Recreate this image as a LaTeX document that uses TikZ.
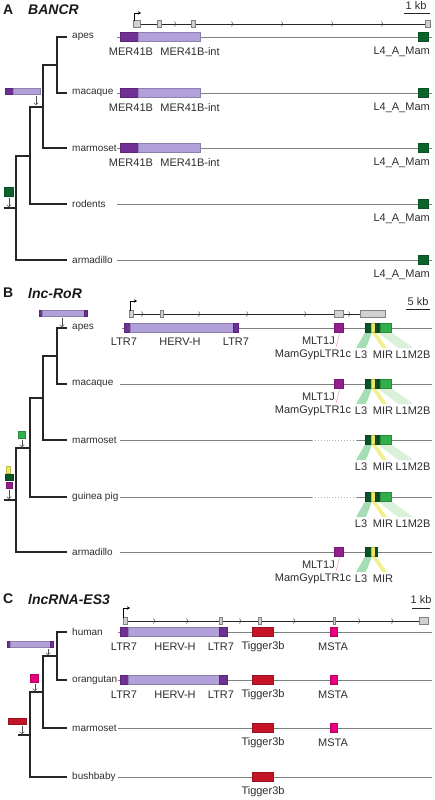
\documentclass[tikz,border=0pt]{standalone}
\usepackage{fontspec}
\setmainfont{Liberation Sans}
\usetikzlibrary{arrows.meta}
\definecolor{dpur}{RGB}{112,48,150}
\definecolor{lpur}{RGB}{178,160,218}
\definecolor{dgrn}{RGB}{12,100,45}
\definecolor{mag}{RGB}{150,30,140}
\definecolor{lthr}{RGB}{10,85,40}
\definecolor{miry}{RGB}{240,232,100}
\definecolor{lmg}{RGB}{50,175,75}
\definecolor{tig}{RGB}{195,20,40}
\definecolor{msta}{RGB}{230,0,125}
\definecolor{txt}{RGB}{45,45,45}
\definecolor{bandg}{RGB}{165,222,180}
\definecolor{bandy}{RGB}{242,240,140}
\definecolor{bandl}{RGB}{218,240,218}
\tikzset{
  ttl/.style={anchor=west, inner sep=0, font=\fontsize{14}{16}\selectfont\bfseries, text=black!90},
  sp/.style={anchor=west, inner sep=0, font=\fontsize{10}{12}\selectfont, text=txt},
  gl/.style={inner sep=0, font=\fontsize{11}{13}\selectfont, text=txt},
  tree/.style={line width=1.1pt, draw=black!85},
  sline/.style={line width=0.9pt, draw=black!50},
  tline/.style={line width=0.9pt, draw=black!85},
  ev/.style={-{Straight Barb[length=2pt,width=4.5pt]}, line width=0.5pt, draw=black!70},
  prom/.style={line width=0.9pt, draw=black, -{Stealth[length=3pt,width=3.5pt]}},
  sbar/.style={line width=1pt, draw=black!85}
}
\newcommand\gbox[4]{\filldraw[fill=#4, draw=#4!80!black, line width=0.3pt] ({#1},{#3-4.5}) rectangle ({#2},{#3+4.5});}
\newcommand\ebox[5]{\filldraw[fill=#5, draw=#5!80!black, line width=0.3pt] ({#1},{#3}) rectangle ({#2},{#4});}
\newcommand\exon[3]{\filldraw[fill=black!18, draw=black!50, line width=0.4pt] ({#1},{#3-3.5}) rectangle ({#2},{#3+3.5});}
\newcommand\chev[2]{\draw[line width=0.5pt, black!75] ({#1-1.5},{#2-2.5}) -- ({#1},{#2}) -- ({#1-1.5},{#2+2.5});}
% L3 / MIR / L1M2B block with bands
\newcommand\Lblock[1]{%
  \fill[bandg] (365,{#1+4.5}) -- (372,{#1+4.5}) -- (366,{#1+20}) -- (356,{#1+20}) -- cycle;
  \fill[bandy] (372,{#1+4.5}) -- (376,{#1+4.5}) -- (387,{#1+20}) -- (382,{#1+20}) -- cycle;
  \fill[bandl] (378,{#1+4.5}) -- (392,{#1+4.5}) -- (413,{#1+20}) -- (398,{#1+20}) -- cycle;
  \gbox{365}{371}{#1}{lthr}\gbox{371}{375}{#1}{miry}\gbox{375}{377}{#1}{lthr}
  \gbox{378}{380}{#1}{lthr}\gbox{380}{391}{#1}{lmg}}
\newcommand\Llabels[2]{%
  \node[gl] (#2L3) at (361,{#1+27}) {L3};
  \node[gl] (#2MIR) at (383,{#1+27}) {MIR};
  \node[gl] (#2L1) at (413,{#1+27}) {L1M2B};}
\newcommand\MLT[2]{%
  \gbox{334}{343}{#1}{mag}
  \draw[line width=0.5pt, draw={rgb,255:red,240;green,150;blue,200}] (340,{#1+4.5}) -- (336,{#1+19});
  \node[gl, anchor=east] (#2MLT) at (335,{#1+13}) {MLT1J};
  \node[gl] (#2Gyp) at (313,{#1+27}) {MamGypLTR1c};}
\begin{document}
\begin{tikzpicture}[x=1pt,y=-1pt]
\useasboundingbox (0,0) rectangle (435,800);

%================ Panel A =================
\node[ttl] (Alet) at (3,10) {A};
\node[ttl, font=\fontsize{14}{16}\selectfont\bfseries\itshape] (Aname) at (28,10) {BANCR};
\node[gl] (Ascale) at (416,6) {1 kb};
\coordinate (As1) at (404,14); \coordinate (As2) at (430,14);
\draw[sbar] (As1) -- (As2);
% transcript
\draw[tline] (136,24) -- (428,24);
\foreach \c in {176,233,283,333,383} {\chev{\c}{24}}
\exon{133}{140}{24}\exon{157}{161}{24}\exon{191}{195}{24}\exon{425}{430}{24}
\draw[prom] (134,21) -- (134,13) -- (141,13);
% tree
\node[sp] (Aapes) at (72,37) {apes};
\node[sp] (Amac) at (72,93) {macaque};
\node[sp] (Amar) at (72,148) {marmoset};
\node[sp] (Arod) at (72,204) {rodents};
\node[sp] (Aarm) at (72,260) {armadillo};
\coordinate (An1) at (57,65);
\coordinate (An2) at (43,107);
\coordinate (An3) at (30,156);
\coordinate (An4) at (16,208);
\coordinate (An0) at (4,208);
\draw[tree] (An1) |- ([xshift=-5pt]Aapes.west);
\draw[tree] (An1) |- ([xshift=-5pt]Amac.west);
\draw[tree] (An2) |- (An1);
\draw[tree] (An2) |- ([xshift=-5pt]Amar.west);
\draw[tree] (An3) |- (An2);
\draw[tree] (An3) |- ([xshift=-5pt]Arod.west);
\draw[tree] (An4) |- (An3);
\draw[tree] (An4) |- ([xshift=-5pt]Aarm.west);
\draw[tree] (An0) -- (An4);
% events
\ebox{5}{13}{88}{94}{dpur}\ebox{13}{40}{88}{94}{lpur}
\coordinate (Ae1a) at (36,96); \coordinate (Ae1b) at (36,105);
\draw[ev] (Ae1a) -- (Ae1b);
\ebox{4}{13}{187}{196}{dgrn}
\coordinate (Ae2a) at (9,198); \coordinate (Ae2b) at (9,207);
\draw[ev] (Ae2a) -- (Ae2b);
% species lines
\foreach \y in {37,93,148} {
  \draw[sline] (117,\y) -- (432,\y);
  \gbox{120}{138}{\y}{dpur}\gbox{138}{200}{\y}{lpur}
  \gbox{418}{428}{\y}{dgrn}
}
\foreach \y in {204,260} {
  \draw[sline] (117,\y) -- (432,\y);
  \gbox{418}{428}{\y}{dgrn}
}
\foreach \y/\n in {37/a,93/b,148/c} {
  \node[gl] (AM\n) at (131,{\y+15}) {MER41B};
  \node[gl] (AI\n) at (190,{\y+15}) {MER41B-int};
}
\foreach \y/\n in {37/a,93/b,148/c,204/d,260/e} {
  \node[gl, anchor=east] (AL\n) at (430,{\y+15}) {L4\_A\_Mam};
}

%================ Panel B =================
\node[ttl] (Blet) at (3,293) {B};
\node[ttl, font=\fontsize{14}{16}\selectfont\bfseries\itshape] (Bname) at (28,293) {lnc-RoR};
\node[gl] (Bscale) at (418,302) {5 kb};
\coordinate (Bs1) at (406,309); \coordinate (Bs2) at (430,309);
\draw[sbar] (Bs1) -- (Bs2);
\draw[tline] (130,314) -- (384,314);
\foreach \c in {143,200,248,306,350} {\chev{\c}{314}}
\exon{129}{133}{314}\exon{160}{163}{314}\exon{334}{343}{314}\exon{360}{385}{314}
\draw[prom] (130,311) -- (130,301) -- (137,301);
% tree
\node[sp] (Bapes) at (72,328) {apes};
\node[sp] (Bmac) at (72,384) {macaque};
\node[sp] (Bmar) at (72,440) {marmoset};
\node[sp] (Bgp) at (72,497) {guinea pig};
\node[sp] (Barm) at (72,552) {armadillo};
\coordinate (Bn1) at (57,356);
\coordinate (Bn2) at (43,398);
\coordinate (Bn3) at (30,448);
\coordinate (Bn4) at (16,500);
\coordinate (Bn0) at (4,500);
\draw[tree] (Bn1) |- ([xshift=-5pt]Bapes.west);
\draw[tree] (Bn1) |- ([xshift=-5pt]Bmac.west);
\draw[tree] (Bn2) |- (Bn1);
\draw[tree] (Bn2) |- ([xshift=-5pt]Bmar.west);
\draw[tree] (Bn3) |- (Bn2);
\draw[tree] (Bn3) |- ([xshift=-5pt]Bgp.west);
\draw[tree] (Bn4) |- (Bn3);
\draw[tree] (Bn4) |- ([xshift=-5pt]Barm.west);
\draw[tree] (Bn0) -- (Bn4);
% events
\ebox{39}{42}{310}{316}{dpur}\ebox{42}{84}{310}{316}{lpur}\ebox{84}{87}{310}{316}{dpur}
\coordinate (Be1a) at (62,318); \coordinate (Be1b) at (62,327);
\draw[ev] (Be1a) -- (Be1b);
\ebox{18}{25}{431}{438}{lmg}
\coordinate (Be2a) at (22,440); \coordinate (Be2b) at (22,447);
\draw[ev] (Be2a) -- (Be2b);
\ebox{6.5}{10}{466}{473}{miry}
\ebox{5}{13}{474}{480}{lthr}
\ebox{6}{12}{482}{488}{mag}
\coordinate (Be3a) at (9,490); \coordinate (Be3b) at (9,499);
\draw[ev] (Be3a) -- (Be3b);
% apes
\draw[sline] (122,328) -- (432,328);
\gbox{124}{130}{328}{dpur}\gbox{130}{233}{328}{lpur}\gbox{233}{238}{328}{dpur}
\node[gl] (BLa) at (124,342) {LTR7};
\node[gl] (BHa) at (180,342) {HERV-H};
\node[gl] (BLb) at (236,342) {LTR7};
\MLT{328}{Ba}
\Lblock{328}
\Llabels{328}{Ba}
% macaque
\draw[sline] (120,384) -- (432,384);
\MLT{384}{Bb}
\Lblock{384}
\Llabels{384}{Bb}
% marmoset, guinea pig
\foreach \y/\n in {440/c,497/d} {
  \draw[sline] (120,\y) -- (312,\y);
  \draw[line width=0.9pt, draw=black!30, dotted] (312,\y) -- (357,\y);
  \draw[sline] (357,\y) -- (432,\y);
  \Lblock{\y}
  \Llabels{\y}{B\n}
}
% armadillo
\draw[sline] (120,552) -- (432,552);
\MLT{552}{Be}
\fill[bandg] (365,556.5) -- (372,556.5) -- (366,572) -- (356,572) -- cycle;
\fill[bandy] (372,556.5) -- (376,556.5) -- (387,572) -- (382,572) -- cycle;
\gbox{365}{371}{552}{lthr}\gbox{371}{375}{552}{miry}\gbox{375}{377.5}{552}{lthr}
\node[gl] (BeL3) at (361,579) {L3};
\node[gl] (BeMIR) at (383,579) {MIR};

%================ Panel C =================
\node[ttl] (Clet) at (3,599) {C};
\node[ttl, font=\fontsize{14}{16}\selectfont\bfseries\itshape] (Cname) at (28,599) {lncRNA-ES3};
\node[gl] (Cscale) at (421,600) {1 kb};
\coordinate (Cs1) at (412,608); \coordinate (Cs2) at (430,608);
\draw[sbar] (Cs1) -- (Cs2);
\draw[tline] (124,621) -- (424,621);
\foreach \c in {155,188,241,295,360,393} {\chev{\c}{621}}
\exon{123}{127}{621}\exon{219.5}{222.5}{621}\exon{258}{261}{621}\exon{333}{335}{621}\exon{419}{428}{621}
\draw[prom] (123,618) -- (123,608) -- (130,608);
% tree
\node[sp] (Chum) at (72,632) {human};
\node[sp] (Corg) at (72,680) {orangutan};
\node[sp] (Cmar) at (72,728) {marmoset};
\node[sp] (Cbb) at (72,777) {bushbaby};
\coordinate (Cn1) at (57,656);
\coordinate (Cn2) at (43,692);
\coordinate (Cn3) at (30,735);
\coordinate (Cn0) at (18,735);
\draw[tree] (Cn1) |- ([xshift=-5pt]Chum.west);
\draw[tree] (Cn1) |- ([xshift=-5pt]Corg.west);
\draw[tree] (Cn2) |- (Cn1);
\draw[tree] (Cn2) |- ([xshift=-5pt]Cmar.west);
\draw[tree] (Cn3) |- (Cn2);
\draw[tree] (Cn3) |- ([xshift=-5pt]Cbb.west);
\draw[tree] (Cn0) -- (Cn3);
% events
\ebox{7}{10}{641}{647}{dpur}\ebox{10}{50}{641}{647}{lpur}\ebox{50}{53}{641}{647}{dpur}
\coordinate (Ce1a) at (48,649); \coordinate (Ce1b) at (48,655);
\draw[ev] (Ce1a) -- (Ce1b);
\ebox{30}{38}{674}{682}{msta}
\coordinate (Ce2a) at (35,684); \coordinate (Ce2b) at (35,691);
\draw[ev] (Ce2a) -- (Ce2b);
\ebox{8}{26}{718}{724}{tig}
\coordinate (Ce3a) at (22,726); \coordinate (Ce3b) at (22,734);
\draw[ev] (Ce3a) -- (Ce3b);
% rows
\foreach \y/\n in {632/a,680/b} {
  \draw[sline] (118,\y) -- (432,\y);
  \gbox{120}{128}{\y}{dpur}\gbox{128}{219}{\y}{lpur}\gbox{219}{227}{\y}{dpur}
  \node[gl] (CLa\n) at (124,{\y+15}) {LTR7};
  \node[gl] (CH\n) at (175,{\y+15}) {HERV-H};
  \node[gl] (CLb\n) at (221,{\y+15}) {LTR7};
}
\foreach \y/\n in {728/c} {
  \draw[sline] (118,\y) -- (432,\y);
}
\draw[sline] (118,777) -- (432,777);
\foreach \y/\n in {632/a,680/b,728/c} {
  \gbox{330}{337}{\y}{msta}
  \node[gl] (CM\n) at (333,{\y+15}) {MSTA};
}
\foreach \y/\n in {632/a,680/b,728/c,777/d} {
  \gbox{252}{273}{\y}{tig}
  \node[gl] (CT\n) at (263,{\y+15}) {Tigger3b};
}
\end{tikzpicture}
\end{document}
